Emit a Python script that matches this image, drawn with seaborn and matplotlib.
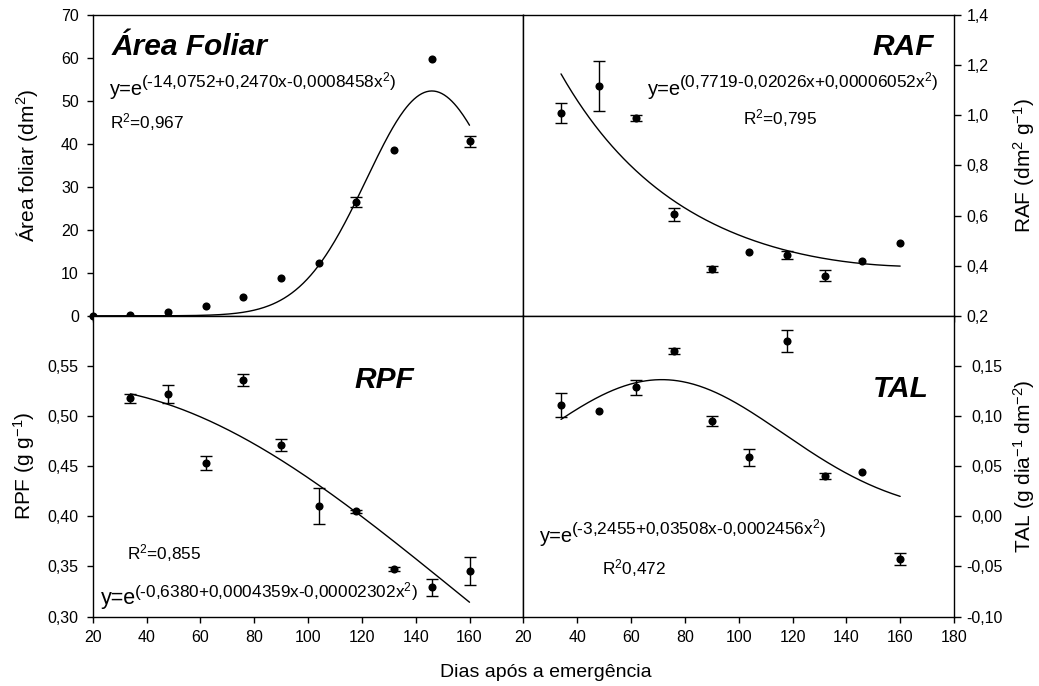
import numpy as np
import pandas as pd
import seaborn as sns
import matplotlib
matplotlib.use("Agg")
import matplotlib.pyplot as plt

# ---------------- data ----------------
dias = [20, 34, 48, 62, 76, 90, 104, 118, 132, 146, 160]
area = [0.0, 0.15, 1.0, 2.2, 4.3, 8.9, 12.4, 26.5, 38.5, 59.8, 40.6]
area_err = [0, 0, 0, 0, 0, 0, 0, 1.2, 0, 0, 1.3]

dias_b = [34, 48, 62, 76, 90, 104, 118, 132, 146, 160]
raf = [1.008, 1.118, 0.988, 0.606, 0.387, 0.455, 0.443, 0.360, 0.418, 0.492]
raf_err = [0.04, 0.10, 0.012, 0.026, 0.013, 0, 0.015, 0.021, 0, 0]
rpf = [0.5175, 0.522, 0.453, 0.5355, 0.4715, 0.410, 0.405, 0.3478, 0.329, 0.3455]
rpf_err = [0.0045, 0.009, 0.007, 0.006, 0.006, 0.018, 0.0015, 0.002, 0.0085, 0.014]
tal = [0.111, 0.105, 0.1287, 0.1645, 0.0952, 0.0588, 0.1752, 0.0402, 0.0443, -0.0423]
tal_err = [0.012, 0, 0.0075, 0.003, 0.005, 0.0085, 0.011, 0.003, 0, 0.006]

# fitted model coefficients shown on the chart: y = exp(a + b x + c x^2)
coef_area = [-14.0752, 0.2470, -0.0008458]
coef_raf = [0.7719, -0.02026, 0.00006052]
coef_rpf = [-0.6380, 0.0004359, -0.00002302]
coef_tal = [-3.2455, 0.03508, -0.0002456]

x_ticks_left = [20, 40, 60, 80, 100, 120, 140, 160]
x_ticks_right = [20, 40, 60, 80, 100, 120, 140, 160, 180]
x_labels_left = ["20", "40", "60", "80", "100", "120", "140", "160"]
x_labels_right = ["20", "40", "60", "80", "100", "120", "140", "160", "180"]
area_ticks = [0, 10, 20, 30, 40, 50, 60, 70]
area_labels = ["0", "10", "20", "30", "40", "50", "60", "70"]
raf_ticks = [0.2, 0.4, 0.6, 0.8, 1.0, 1.2, 1.4]
raf_labels = ["0,2", "0,4", "0,6", "0,8", "1,0", "1,2", "1,4"]
rpf_ticks = [0.30, 0.35, 0.40, 0.45, 0.50, 0.55]
rpf_labels = ["0,30", "0,35", "0,40", "0,45", "0,50", "0,55"]
tal_ticks = [-0.10, -0.05, 0.00, 0.05, 0.10, 0.15]
tal_labels = ["-0,10", "-0,05", "0,00", "0,05", "0,10", "0,15"]

# ---------------- style ----------------
sns.set_style("ticks")
plt.rcParams["font.family"] = ["Liberation Sans", "DejaVu Sans"]
plt.rcParams["mathtext.fontset"] = "custom"
plt.rcParams["mathtext.rm"] = "Liberation Sans"
plt.rcParams["mathtext.default"] = "regular"
plt.rcParams["axes.edgecolor"] = "black"
plt.rcParams["axes.linewidth"] = 1.0
plt.rcParams["text.color"] = "black"
plt.rcParams["axes.labelcolor"] = "black"
plt.rcParams["xtick.color"] = "black"
plt.rcParams["ytick.color"] = "black"

fig = plt.figure(figsize=(10.39, 6.86), dpi=100)
axs = fig.subplots(2, 2, gridspec_kw=dict(hspace=0, wspace=0))
fig.subplots_adjust(left=0.0892, right=0.9182, top=0.978, bottom=0.1013)
ax_a, ax_r = axs[0]
ax_p, ax_t = axs[1]

TICK_FS = 11.5


def model(coef, x):
    x = np.asarray(x, dtype=float)
    return np.exp(coef[0] + coef[1] * x + coef[2] * x ** 2)


def draw(ax, x, y, err, coef, x0, x1):
    x = np.asarray(x, float)
    y = np.asarray(y, float)
    e = np.asarray(err, float)
    m = e > 0
    ax.errorbar(x[m], y[m], yerr=e[m], fmt="none", ecolor="black",
                elinewidth=1.0, capsize=4, capthick=1.0, zorder=2)
    xc = np.linspace(x0, x1, 300)
    sns.lineplot(x=xc, y=model(coef, xc), ax=ax, color="black", lw=1.0,
                 zorder=2, sort=False)
    sns.scatterplot(x=x, y=y, ax=ax, color="black", s=34, linewidth=0,
                    zorder=3, clip_on=False)


draw(ax_a, dias, area, area_err, coef_area, 20, 160)
draw(ax_r, dias_b, raf, raf_err, coef_raf, 34, 160)
draw(ax_p, dias_b, rpf, rpf_err, coef_rpf, 34, 160)
draw(ax_t, dias_b, tal, tal_err, coef_tal, 34, 160)

for ax in axs.flat:
    ax.set_xlim(20, 180)
    for s in ax.spines.values():
        s.set_visible(True)
        s.set_color("black")
        s.set_linewidth(1.0)
    ax.tick_params(direction="out", length=4, width=1.0, colors="black",
                   labelsize=TICK_FS)

ax_a.set_ylim(0, 70)
ax_r.set_ylim(0.2, 1.4)
ax_p.set_ylim(0.30, 0.60)
ax_t.set_ylim(-0.10, 0.20)

# x ticks
ax_a.set_xticks(x_ticks_left)
ax_a.set_xticklabels([])
ax_r.set_xticks(x_ticks_right)
ax_r.set_xticklabels([])
ax_p.set_xticks(x_ticks_left)
ax_p.set_xticklabels(x_labels_left)
ax_t.set_xticks(x_ticks_right)
ax_t.set_xticklabels(x_labels_right)
for ax in (ax_p, ax_t):
    ax.tick_params(axis="x", pad=6)

# y ticks
ax_a.set_yticks(area_ticks)
ax_a.set_yticklabels(area_labels)
ax_p.set_yticks(rpf_ticks)
ax_p.set_yticklabels(rpf_labels)
for ax in (ax_a, ax_p):
    ax.tick_params(axis="y", pad=6)

ax_r.set_yticks(raf_ticks)
ax_r.set_yticklabels(raf_labels)
ax_t.set_yticks(tal_ticks)
ax_t.set_yticklabels(tal_labels)
for ax, pad in ((ax_r, 20), (ax_t, 30)):
    ax.yaxis.tick_right()
    ax.yaxis.set_label_position("right")
    ax.tick_params(axis="y", left=False, right=True, length=5, pad=pad)
    for lab in ax.get_yticklabels():
        lab.set_horizontalalignment("right")

# axis labels
LAB_FS = 15
ax_a.set_ylabel("Área foliar (dm$^2$)", fontsize=LAB_FS)
ax_a.yaxis.set_label_coords(-0.123, 0.5)
ax_p.set_ylabel("RPF (g g$^{-1}$)", fontsize=LAB_FS)
ax_p.yaxis.set_label_coords(-0.130, 0.5)
ax_r.set_ylabel("RAF (dm$^2$ g$^{-1}$)", fontsize=LAB_FS)
ax_r.yaxis.set_label_coords(1.133, 0.5)
ax_t.set_ylabel("TAL (g dia$^{-1}$ dm$^{-2}$)", fontsize=LAB_FS)
ax_t.yaxis.set_label_coords(1.133, 0.5)
for ax in axs.flat:
    ax.set_xlabel("")
fig.text(0.5255, 0.019, "Dias após a emergência", fontsize=14,
         ha="center", va="center")

# panel titles
TITLE_FS = 21.5
ax_a.text(27.0, 60.7, "Área Foliar", fontsize=TITLE_FS, fontweight="bold",
          fontstyle="italic", ha="left", va="baseline")
ax_r.text(172.6, 1.241, "RAF", fontsize=TITLE_FS, fontweight="bold",
          fontstyle="italic", ha="right", va="baseline")
ax_p.text(117.1, 0.528, "RPF", fontsize=TITLE_FS, fontweight="bold",
          fontstyle="italic", ha="left", va="baseline")
ax_t.text(170.7, 0.119, "TAL", fontsize=TITLE_FS, fontweight="bold",
          fontstyle="italic", ha="right", va="baseline")


def equation(ax, x, y, expo, fs_base=14.5, fs_exp=12.4, rise=5.5):
    t = ax.text(x, y, "y=e", fontsize=fs_base, ha="left", va="baseline")
    ax.annotate(expo, xy=(1, 0), xycoords=t,
                xytext=(-1.5, 0.212 * fs_base + rise),
                textcoords="offset points",
                fontsize=fs_exp, ha="left", va="baseline")


EQ_FS = 12.4
equation(ax_a, 26.4, 51.4, "(-14,0752+0,2470x-0,0008458x$^2$)")
ax_a.text(26.4, 43.7, "R$^2$=0,967", fontsize=EQ_FS, ha="left", va="baseline")

equation(ax_r, 66.3, 1.081, "(0,7719-0,02026x+0,00006052x$^2$)")
ax_r.text(101.5, 0.962, "R$^2$=0,795", fontsize=EQ_FS, ha="left", va="baseline")

equation(ax_p, 23.2, 0.312, "(-0,6380+0,0004359x-0,00002302x$^2$)", fs_base=15.5)
ax_p.text(32.6, 0.3567, "R$^2$=0,855", fontsize=EQ_FS, ha="left", va="baseline")

equation(ax_t, 26.3, -0.026, "(-3,2455+0,03508x-0,0002456x$^2$)")
ax_t.text(49.1, -0.058, "R$^2$0,472", fontsize=EQ_FS, ha="left", va="baseline")

fig.savefig("out.png", dpi=100)
